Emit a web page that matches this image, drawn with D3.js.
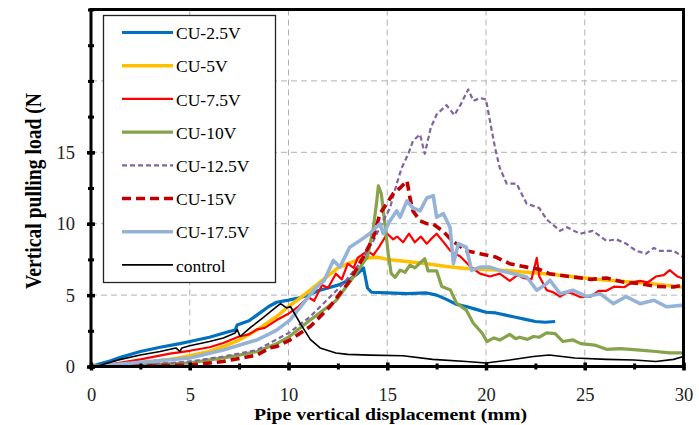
<!DOCTYPE html>
<html><head><meta charset="utf-8">
<script src="https://cdn.jsdelivr.net/npm/d3@7/dist/d3.min.js"></script>
<style>
html,body{margin:0;padding:0;background:#fff;}
svg{display:block;}
svg text{font-family:"Liberation Serif","Tinos","Times New Roman",serif;}
</style></head>
<body><svg id="c" width="699" height="425"></svg>
<script>
// ---- data ----
const seriesNames = ["CU-2.5V","CU-5V","CU-7.5V","CU-10V","CU-12.5V","CU-15V","CU-17.5V","control"];
const xTicks = [0,5,10,15,20,25,30];
const yTickLabels = [0,5,10,15];
const yGrid = [5,10,15,20];

const cu25 = [[0,0],[0.5,0.2],[1,0.4],[1.5,0.65],[2.5,1.05],[3.5,1.35],[4.5,1.6],[5,1.75],[6,2.05],[7,2.45],[7.3,2.55],[7.4,2.9],[8,3.2],[8.4,3.6],[9,4.2],[9.4,4.5],[10,4.65],[10.5,4.8],[11,5.0],[11.5,5.3],[12,5.5],[12.5,5.7],[13,6.0],[13.5,6.5],[13.8,6.9],[14.0,5.5],[14.2,5.2],[15,5.15],[16,5.1],[17,5.15],[17.5,5.0],[18,4.7],[18.5,4.35],[19,4.2],[19.5,4.0],[20,3.8],[20.5,3.75],[21,3.6],[21.5,3.45],[22,3.3],[22.5,3.15],[23,3.1],[23.5,3.15]];
const cu5 = [[0,0],[1,0.05],[2.5,0.25],[4,0.5],[5,0.75],[6,1.05],[6.7,1.4],[7.5,1.85],[8.4,2.55],[9.4,3.5],[10,4.2],[10.5,4.7],[11,5.25],[11.5,5.8],[12,6.35],[12.5,6.9],[13,7.2],[13.5,7.45],[14,7.6],[14.5,7.65],[15,7.5],[16,7.35],[17,7.2],[18,7.0],[19,6.87],[20,6.8],[21,6.73],[22,6.6],[23,6.5],[24,6.35],[25,6.2],[26,6.05],[27,5.95],[28,5.85],[29,5.7],[30,5.55]];
const cu75 = [[0,0],[1,0.15],[2.5,0.5],[4,0.9],[5,1.1],[6,1.35],[6.7,1.65],[7.5,2.1],[8,2.25],[8.4,2.6],[8.8,2.7],[9.4,3.25],[10,3.7],[10.5,4.2],[11,4.85],[11.3,4.6],[11.7,5.7],[12,5.5],[12.4,6.5],[12.7,6.1],[13,7.2],[13.3,6.9],[13.5,7.6],[14,8.1],[14.3,7.8],[14.6,8.4],[15,9.3],[15.3,8.9],[15.5,9.1],[15.8,8.7],[16.1,9.3],[16.4,8.7],[16.7,9.1],[17,8.6],[17.2,8.9],[17.5,9.3],[17.8,8.8],[18.2,8.1],[18.7,7.7],[19.2,7.0],[19.7,6.5],[20.2,6.3],[20.7,6.5],[21.2,6.0],[21.6,6.4],[21.9,6.2],[22.3,6.1],[22.57,7.6],[22.7,6.3],[23.07,5.35],[23.4,5.2],[23.75,4.9],[24.1,5.2],[24.4,5.1],[24.8,4.85],[25.3,4.9],[25.7,5.3],[26.1,5.3],[26.5,5.6],[27,5.55],[27.4,5.9],[27.8,6.0],[28.2,5.9],[28.6,6.3],[29,6.4],[29.3,6.75],[29.7,6.3],[30,6.15]];
const cu10 = [[0,0],[2.5,0.1],[5,0.25],[6.7,0.6],[7.5,0.8],[8.4,1.05],[9.4,1.6],[10,2.05],[11.1,3.25],[12.4,4.6],[13.3,6.3],[14,7.7],[14.3,9.75],[14.47,11.6],[14.55,12.65],[14.7,12.1],[14.9,9.75],[15.05,7.9],[15.2,6.5],[15.4,6.25],[15.65,6.75],[15.9,6.6],[16.15,7.1],[16.4,6.9],[16.7,7.3],[16.9,7.55],[17.06,6.7],[17.5,6.7],[17.76,5.6],[18.2,5.35],[18.5,4.45],[19,3.95],[19.35,3.05],[19.8,2.35],[20.05,1.75],[20.4,2.0],[20.7,1.85],[21.2,2.25],[21.5,1.95],[21.7,2.05],[22.1,1.9],[22.4,2.1],[22.7,2.05],[23.07,2.35],[23.5,2.3],[23.9,1.75],[24.4,1.86],[24.8,1.6],[25.5,1.5],[26.1,1.2],[26.8,1.25],[27.8,1.15],[28.6,1.05],[29.3,0.95],[30,0.95]];
const cu125 = [[0,0],[2.5,0.1],[5,0.35],[6.7,0.7],[8.4,1.15],[9.4,1.9],[10.07,2.4],[11.1,3.5],[11.76,4.4],[12.77,5.8],[13.6,7.2],[14.3,8.8],[14.8,10.2],[15.14,11.1],[15.48,12.8],[15.73,13.9],[16.07,14.9],[16.3,15.8],[16.66,16.25],[16.9,14.9],[17.2,16.7],[17.5,17.65],[18.0,18.3],[18.4,17.6],[18.7,18.3],[19.1,19.4],[19.36,18.6],[19.7,18.8],[20.0,18.7],[20.2,17.2],[20.46,15.3],[20.7,13.9],[21.05,12.8],[21.55,12.8],[22.06,11.4],[22.7,11.1],[23.07,10.3],[23.75,9.5],[24.1,9.75],[24.76,9.3],[25.4,9.5],[26.1,8.8],[26.6,8.9],[27.1,8.6],[27.6,8.1],[28.1,7.9],[28.5,8.3],[28.8,8.1],[29.5,8.1],[30,7.66]];
const cu15 = [[0,0],[2.5,0.03],[5,0.1],[6.7,0.35],[8.4,0.8],[9.06,1.3],[9.4,1.4],[10.07,1.85],[11.1,2.8],[12.1,4.2],[13.1,6.0],[13.8,7.7],[14.3,9.05],[14.63,10.7],[14.97,11.4],[15.3,12.1],[15.65,12.5],[16.0,13.0],[16.15,11.8],[16.3,10.9],[16.66,10.2],[17.0,10.0],[17.3,10.0],[17.8,9.5],[18.3,8.8],[19.0,8.1],[19.7,7.9],[20.5,7.66],[21.2,7.2],[22.06,6.96],[22.7,6.8],[23.2,6.5],[24.4,6.27],[25.3,6.1],[26.1,6.2],[27,5.9],[27.8,5.8],[28.6,5.6],[29.5,5.57],[30,5.7]];
const cu175 = [[0,0],[2.5,0.3],[5,0.6],[6.7,1.15],[8.4,1.86],[9.06,2.3],[9.4,2.55],[10.07,3.25],[10.74,4.4],[11.43,5.57],[11.8,6.0],[12.27,7.43],[12.6,6.96],[13.1,8.35],[13.6,8.8],[14.1,9.3],[14.63,10.0],[14.8,9.3],[15.14,10.2],[15.48,10.9],[15.65,10.45],[16.0,11.6],[16.3,11.1],[16.66,10.9],[17.0,11.8],[17.33,11.96],[17.5,10.45],[17.84,10.7],[18.18,9.75],[18.35,7.2],[18.6,8.6],[19.0,8.35],[19.27,6.73],[19.7,6.96],[20.2,6.96],[20.7,6.73],[21.4,6.5],[22.06,6.27],[22.57,5.34],[23.07,5.8],[23.24,6.04],[23.75,5.1],[24.4,5.34],[25.1,4.9],[25.77,5.1],[26.45,4.4],[27.1,4.9],[27.8,4.4],[28.5,4.64],[29.15,4.18],[30,4.3]];
const control = [[0,0],[0.5,0.1],[1.5,0.5],[2.5,0.8],[3.5,1.05],[4.3,1.3],[4.5,1.05],[4.6,1.3],[5,1.45],[6,1.75],[6.7,2.0],[7.3,2.35],[7.4,2.6],[7.55,2.1],[8.05,2.7],[8.7,3.4],[9.4,4.2],[9.6,4.4],[9.9,4.1],[10.1,4.2],[10.6,3.0],[11.1,1.9],[11.6,1.3],[12.4,0.95],[13,0.85],[14.1,0.8],[15.8,0.75],[17.3,0.5],[19,0.35],[20,0.25],[21.2,0.45],[22.4,0.7],[23.2,0.8],[24.5,0.6],[26.1,0.5],[27.5,0.45],[28.6,0.35],[29.5,0.5],[30,0.7]];

const seriesData = [cu25,cu5,cu75,cu10,cu125,cu15,cu175,control];
const styles = [
  {c:"#0070C0", w:3.2, d:null},
  {c:"#FFC000", w:3.5, d:null},
  {c:"#FF0000", w:2.2, d:null},
  {c:"#86A24A", w:3.2, d:null},
  {c:"#8064A2", w:2.2, d:"5,3"},
  {c:"#C00000", w:3.6, d:"9,5"},
  {c:"#95B3D7", w:3.6, d:null},
  {c:"#000000", w:1.6, d:null}
];
const FONT = "Liberation Serif";

const svg = d3.select("#c");
const X0=91, X1=683.5, Y0=366.5, Y1=9.5;
const x = d3.scaleLinear().domain([0,30]).range([X0,X1]);
const y = d3.scaleLinear().domain([0,25]).range([Y0,Y1]);

// grid
const g = svg.append("g");
g.selectAll(".vg").data(xTicks.filter(v=>v>0&&v<30)).enter().append("line")
  .attr("x1",d=>x(d)).attr("x2",d=>x(d)).attr("y1",Y1).attr("y2",Y0)
  .attr("stroke","#b0b0b0").attr("stroke-width",1).attr("stroke-dasharray","6,4");
g.selectAll(".hg").data(yGrid).enter().append("line")
  .attr("x1",X0).attr("x2",X1).attr("y1",d=>y(d)).attr("y2",d=>y(d))
  .attr("stroke","#b0b0b0").attr("stroke-width",1).attr("stroke-dasharray","6,4");

// lines
svg.append("clipPath").attr("id","pc").append("rect")
  .attr("x",X0).attr("y",Y1).attr("width",X1-X0).attr("height",Y0-Y1);
const line = d3.line().x(d=>x(d[0])).y(d=>y(d[1]));
const lg = svg.append("g").attr("clip-path","url(#pc)");
seriesData.forEach((s,i)=>{
  lg.append("path").attr("d",line(s)).attr("fill","none")
    .attr("stroke",styles[i].c).attr("stroke-width",styles[i].w)
    .attr("stroke-linejoin","round")
    .attr("stroke-dasharray",styles[i].d);
});

// frame
svg.append("rect").attr("x",X0).attr("y",Y1).attr("width",X1-X0).attr("height",Y0-Y1)
  .attr("fill","none").attr("stroke","#000").attr("stroke-width",3);

// axes
const xMinor = d3.range(0,30.01,2.5);
const yMinor = d3.range(0,25.01,2.5);
svg.append("g").attr("transform",`translate(0,${Y0})`)
  .call(d3.axisBottom(x).tickValues(xMinor).tickSize(3).tickFormat(""))
  .call(a=>{a.select(".domain").remove(); a.selectAll("line").attr("stroke-width",3).attr("y1",-3);});
svg.append("g").attr("transform",`translate(0,${Y0})`)
  .call(d3.axisBottom(x).tickValues(xTicks).tickSize(4).tickPadding(17))
  .call(a=>{a.select(".domain").remove();
    a.attr("font-family",FONT).attr("font-size",18.5);
    a.selectAll("line").attr("stroke-width",3.5).attr("y1",-4);
    a.selectAll("text").attr("font-family",FONT).attr("font-size",18.5).attr("fill","#222");});
svg.append("g").attr("transform",`translate(${X0},0)`)
  .call(d3.axisLeft(y).tickValues(yMinor).tickSize(3).tickFormat(""))
  .call(a=>{a.select(".domain").remove(); a.selectAll("line").attr("stroke-width",3).attr("x1",3);});
svg.append("g").attr("transform",`translate(${X0},0)`)
  .call(d3.axisLeft(y).tickValues(yTickLabels).tickSize(4).tickPadding(12))
  .call(a=>{a.select(".domain").remove();
    a.attr("font-family",FONT).attr("font-size",18.5);
    a.selectAll("line").attr("stroke-width",3.5).attr("x1",4);
    a.selectAll("text").attr("font-family",FONT).attr("font-size",18.5).attr("fill","#222");});

// axis titles
svg.append("text").attr("x",390.5).attr("y",420).attr("text-anchor","middle")
  .attr("font-family",FONT).attr("font-weight","bold").attr("font-size",17.5)
  .attr("textLength",273).attr("lengthAdjust","spacingAndGlyphs")
  .text("Pipe vertical displacement (mm)");
svg.append("text").attr("transform","translate(41,191) scale(1.2,1) rotate(-90)").attr("text-anchor","middle")
  .attr("font-family",FONT).attr("font-weight","bold").attr("font-size",19)
  .attr("textLength",196).attr("lengthAdjust","spacingAndGlyphs")
  .text("Vertical pulling load (N");

// legend
const leg = svg.append("g");
leg.append("rect").attr("x",103.5).attr("y",15.5).attr("width",172).attr("height",267)
  .attr("fill","#fff").attr("stroke","#222").attr("stroke-width",1.3);
seriesNames.forEach((n,i)=>{
  const yy = 32.5 + i*33.2;
  leg.append("line").attr("x1",122).attr("x2",173).attr("y1",yy).attr("y2",yy)
    .attr("stroke",styles[i].c).attr("stroke-width",styles[i].w)
    .attr("stroke-dasharray",styles[i].d);
  leg.append("text").attr("x",176).attr("y",yy+6.6).attr("font-family",FONT).attr("font-size",17.5)
    .text(n);
});
</script></body></html>
